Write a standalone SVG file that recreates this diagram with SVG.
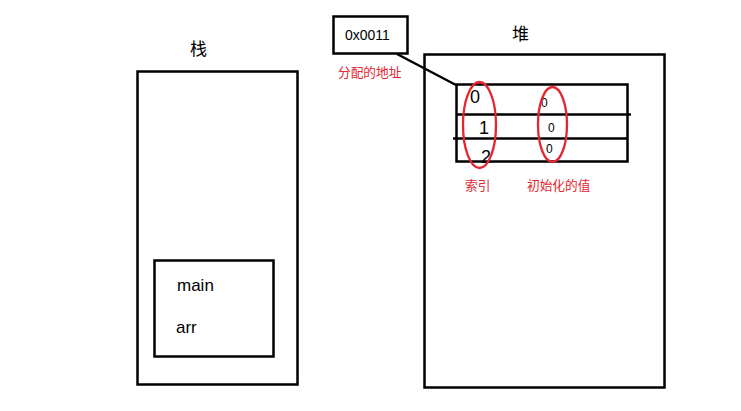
<svg xmlns="http://www.w3.org/2000/svg" width="741" height="411" viewBox="0 0 741 411">
<style>
.box{fill:none;stroke:#000;stroke-width:2.5}
.t{font-family:"Liberation Sans","Noto Sans CJK SC",sans-serif;fill:#000}
.r{font-family:"Liberation Sans","Noto Sans CJK SC",sans-serif;fill:#e3262f;font-size:12.7px}
.el{fill:none;stroke:#e3262f;stroke-width:2.3}
</style>
<rect width="741" height="411" fill="#fff"/>
<g id="stack">
<rect class="box" x="137.5" y="71.5" width="160" height="313"/>
<text class="t" x="190" y="55" font-size="17">栈</text>
</g>
<g id="frame">
<rect class="box" x="154.5" y="260.5" width="119" height="96"/>
<text class="t" x="177" y="291" font-size="17">main</text>
<text class="t" x="176" y="333" font-size="17">arr</text>
</g>
<g id="heap">
<rect class="box" x="424.5" y="54.5" width="240" height="333"/>
<text class="t" x="512" y="40" font-size="17">堆</text>
</g>
<g id="address">
<rect class="box" x="333.5" y="16.5" width="74" height="37"/>
<text class="t" x="345" y="40" font-size="14">0x0011</text>
<text class="r" x="338" y="77">分配的地址</text>
</g>
<g id="array">
<rect class="box" x="456.5" y="84.5" width="171" height="77"/>
<line class="box" x1="456" y1="114.5" x2="631" y2="114.5"/>
<line class="box" x1="453" y1="138.5" x2="628" y2="138.5"/>
<text class="t" x="470" y="103" font-size="18">0</text>
<text class="t" x="479" y="134" font-size="18">1</text>
<text class="t" x="481" y="163" font-size="18">2</text>
<text class="t" x="541" y="107" font-size="12">0</text>
<text class="t" x="548" y="132" font-size="12">0</text>
<text class="t" x="546" y="153" font-size="12">0</text>
<ellipse class="el" cx="479.5" cy="125" rx="16.5" ry="43"/>
<ellipse class="el" cx="552.5" cy="124.5" rx="14.5" ry="37.5"/>
<text class="r" x="465" y="190">索引</text>
<text class="r" x="527" y="190">初始化的值</text>
</g>
<g id="connectors">
<line x1="397" y1="54" x2="456" y2="85" stroke="#000" stroke-width="2.5"/>
</g>
</svg>
